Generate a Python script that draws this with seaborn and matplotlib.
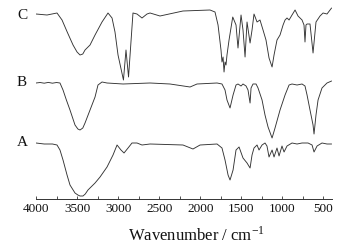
import numpy as np
import pandas as pd
import matplotlib
matplotlib.use("Agg")
import matplotlib.pyplot as plt
from matplotlib.ticker import MultipleLocator
import seaborn as sns

# ---- data (wavenumber in cm-1, offset transmittance in a.u.) ----
wn_C = [4000, 3866, 3744, 3683, 3620, 3549, 3500, 3464, 3430, 3403, 3342, 3281, 3196, 3123,
        3074, 3038, 3001, 2935, 2904, 2873, 2819, 2770, 2709, 2648, 2611, 2490, 2210, 1881,
        1820, 1783, 1747, 1735, 1722, 1710, 1698, 1686, 1674, 1649, 1604, 1564, 1540, 1503,
        1479, 1454, 1430, 1393, 1369, 1345, 1308, 1272, 1235, 1199, 1162, 1125, 1101, 1065,
        1028, 991, 967, 943, 918, 882, 845, 809, 760, 736, 724, 712, 699, 663, 626, 590, 541,
        504, 456, 419, 400]
t_C = [185, 184, 186, 179, 167, 154, 147, 144, 145, 149, 154, 164, 177, 186,
       181, 167, 144, 119, 149, 122, 186, 185, 181, 185, 186, 183, 188, 189,
       187, 174, 149, 137, 142, 127, 137, 134, 144, 159, 182, 174, 151, 184,
       169, 142, 177, 156, 169, 185, 177, 179, 169, 159, 141, 132, 144, 159,
       164, 174, 179, 181, 179, 184, 189, 183, 179, 174, 157, 174, 175, 175, 146, 177, 183,
       186, 185, 189, 191]

wn_B = [4000, 3950, 3900, 3850, 3800, 3750, 3708, 3671, 3630, 3586, 3525, 3490, 3464, 3430,
        3403, 3342, 3281, 3245, 3196, 3135, 2940, 2611, 2368, 2124, 2039, 1795, 1735, 1698,
        1674, 1637, 1600, 1564, 1540, 1503, 1479, 1442, 1418, 1393, 1381, 1357, 1320, 1296,
        1247, 1211, 1174, 1125, 1089, 1028, 967, 918, 882, 821, 760, 724, 699, 663, 626,
        614, 590, 565, 517, 456, 400]
t_B = [116, 116.5, 115.8, 116.6, 115.8, 116.5, 116, 109, 99, 89, 74, 70, 69, 71,
       76, 89, 102, 114, 117, 116, 115, 116, 115, 112, 115, 116, 115, 109,
       99, 91, 104, 114, 115, 113, 115, 113, 109, 96, 111, 115, 115, 111,
       99, 84, 72, 61, 71, 89, 104, 114, 115, 114, 115, 113, 104, 89, 74,
       65, 84, 99, 111, 116, 118]

wn_A = [4000, 3900, 3800, 3744, 3708, 3671, 3622, 3586, 3525, 3490, 3464, 3428, 3400, 3367,
        3281, 3220, 3135, 3062, 3013, 2965, 2928, 2879, 2831, 2770, 2709, 2611, 2210, 2088,
        2002, 1795, 1735, 1698, 1661, 1637, 1600, 1564, 1527, 1479, 1430, 1393, 1369, 1345,
        1308, 1284, 1247, 1211, 1187, 1162, 1125, 1101, 1065, 1040, 1004, 979, 943, 882,
        821, 760, 687, 638, 614, 577, 517, 456, 400]
t_A = [56, 55, 55, 54, 49, 39, 24, 14, 6, 4, 3, 3, 5, 9,
       16, 22, 32, 44, 54, 49, 46, 51, 56, 56, 54, 55, 54, 50,
       54, 55, 51, 39, 24, 19, 29, 49, 52, 41, 36, 31, 44, 51,
       54, 49, 54, 56, 53, 42, 49, 42, 51, 43, 53, 47, 53, 56,
       55, 56, 56, 54, 47, 53, 56, 55, 55]

sample_names = ["A", "B", "C"]
tick_values = [4000, 3500, 3000, 2500, 2000, 1500, 1000, 500]

frames = []
for name, wn, t in zip(sample_names, [wn_A, wn_B, wn_C], [t_A, t_B, t_C]):
    frames.append(pd.DataFrame({"wavenumber": wn, "T": t, "sample": name}))
df = pd.concat(frames, ignore_index=True)

sns.set_theme(style="white")
plt.rcParams["font.family"] = ["Liberation Serif", "DejaVu Serif"]
plt.rcParams["mathtext.fontset"] = "stix"

W, H = 355, 246
fig = plt.figure(figsize=(W / 100, H / 100), dpi=100)
x0, x1 = 36, 331.6
ax = fig.add_axes([x0 / W, (H - 199) / H, (x1 - x0) / W, 196 / H])

for name in sample_names:
    sub = df[df["sample"] == name]
    sns.lineplot(data=sub, x="wavenumber", y="T", ax=ax, color="#333333",
                 linewidth=0.65, estimator=None, sort=False, legend=False)

ax.set_xlim(4000, 400)
ax.set_ylim(0, 196)
for s in ["top", "right", "left"]:
    ax.spines[s].set_visible(False)
ax.spines["bottom"].set_color("#333333")
ax.spines["bottom"].set_linewidth(0.7)
ax.set_yticks([])
ax.set_ylabel("")
ax.set_xlabel("")
ax.set_xticks(tick_values)
ax.set_xticklabels([str(v) for v in tick_values])
ax.xaxis.set_minor_locator(MultipleLocator(250))
ax.tick_params(axis="x", which="both", direction="in", length=2.5, width=0.6,
               color="#333333", pad=3, labelsize=9.5, labelcolor="#111111", bottom=True)

# sample labels
label_y = {"A": 56, "B": 116, "C": 184}
for name in sample_names:
    ax.text(4170, label_y[name], name, ha="center", va="center", fontsize=11,
            color="#111111", clip_on=False)

fig.text(196 / W, 1 - 235 / H, r"Wavenumber / cm$^{\mathregular{-1}}$", ha="center",
         va="center", fontsize=12, color="#111111")

fig.savefig("out.png", dpi=100, facecolor="white")
